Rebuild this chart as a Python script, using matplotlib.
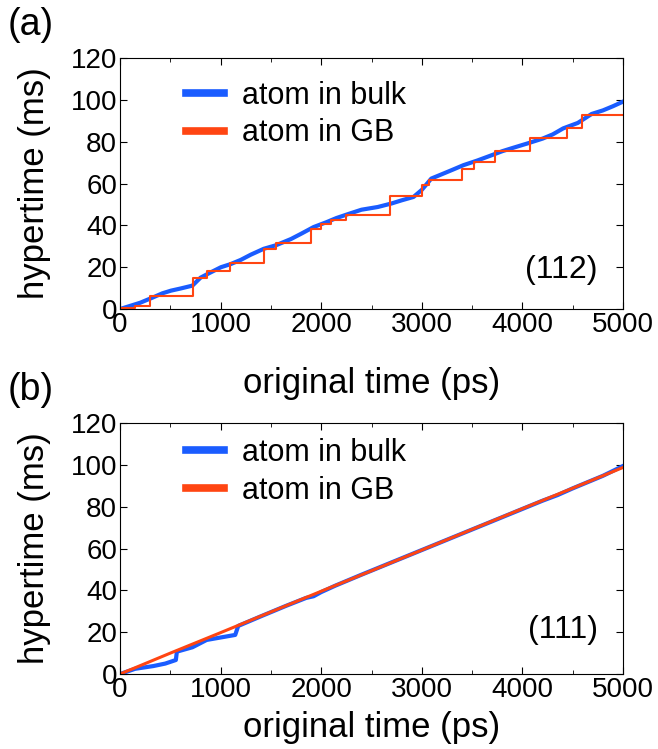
import numpy as np
import matplotlib
matplotlib.use('Agg')
import matplotlib.pyplot as plt
from matplotlib.ticker import MultipleLocator

plt.rcParams['font.family'] = ['Liberation Sans', 'DejaVu Sans']

# (112) panel
bulk112_t = [0, 100, 200, 330, 420, 507, 600, 720, 800, 900, 1003, 1100, 1200, 1300,
             1428, 1550, 1700, 1800, 1924, 2050, 2150, 2279, 2400, 2562, 2700, 2800,
             2917, 3000, 3094, 3200, 3300, 3413, 3550, 3696, 3800, 3900, 4050, 4200,
             4300, 4405, 4550, 4688, 4800, 4900, 5000]
bulk112_h = [0, 1.5, 3, 5.6, 7.5, 8.8, 9.8, 11.2, 15, 17.5, 20, 21.5, 23.5, 26,
             28.8, 30.5, 33.5, 36, 39.2, 41.5, 43.5, 45.6, 47.5, 48.8, 50.5, 52,
             53.6, 57, 62.4, 64.5, 66.5, 68.8, 71, 73.6, 75.5, 77, 79.2, 81.5,
             83.5, 86.4, 89, 93.3, 95, 97, 99.2]

gb112_t = [0, 152, 294, 726, 861, 1091, 1428, 1552, 1899, 2000, 2100, 2243, 2686,
           3005, 3076, 3395, 3519, 3731, 4079, 4440, 4589, 5000]
gb112_h = [0.5, 1.6, 6.4, 14.9, 18.4, 21.9, 28.8, 31.7, 38.4, 40.5, 42.5, 44.8,
           54.1, 59.2, 61.9, 67.2, 70.4, 75.5, 81.9, 86.4, 92.8, 92.8]

# (111) panel
bulk111_t = [0, 150, 330, 450, 555, 565, 720, 861, 1003, 1145, 1175, 1400, 1650,
             1850, 1924, 2000, 2137, 2400, 2700, 3000, 3300, 3600, 3900, 4200,
             4350, 4500, 4800, 5000]
bulk111_h = [0, 2.5, 3.8, 5, 6.7, 10.7, 12.8, 16.3, 17.5, 18.7, 23.0, 27.6, 32.6,
             36.4, 37.2, 39.2, 42.2, 47.5, 53.4, 59.3, 65.2, 71.1, 77.0, 82.9,
             85.6, 88.8, 94.8, 99.5]

gb111_t = [0, 500, 1000, 1500, 2000, 2500, 3000, 3500, 4000, 4500, 5000]
gb111_h = [0, 10, 19.8, 29.7, 39.6, 49.4, 59.3, 69.2, 79.1, 88.9, 98.8]

blue = '#1a5cff'
red = '#ff4512'

fig = plt.figure(figsize=(6.58, 7.49), dpi=100)
ax1 = fig.add_axes([0.1824, 0.5874, 0.7645, 0.335])
ax2 = fig.add_axes([0.1824, 0.1001, 0.7645, 0.335])

panels = [(ax1, bulk112_t, bulk112_h, gb112_t, gb112_h, '(112)', True, 0.91, 0.155, -0.295),
          (ax2, bulk111_t, bulk111_h, gb111_t, gb111_h, '(111)', False, 0.94, 0.175, -0.215)]

for ax, bt, bh, gt, gh, tag, stepped, ly, ty, xly in panels:
    ax.plot(bt, bh, color=blue, lw=3.0, label='atom in bulk')
    if stepped:
        ax.step(gt, gh, where='post', color=red, lw=1.5, label='atom in GB')
    else:
        ax.plot(gt, gh, color=red, lw=2.2, label='atom in GB')
    ax.set_xlim(0, 5000)
    ax.set_ylim(0, 120)
    ax.xaxis.set_major_locator(MultipleLocator(1000))
    ax.xaxis.set_minor_locator(MultipleLocator(500))
    ax.yaxis.set_major_locator(MultipleLocator(20))
    ax.tick_params(which='both', direction='in', top=True, right=True, labelsize=20, pad=2)
    ax.tick_params(which='major', length=5)
    ax.tick_params(which='minor', length=3)
    ax.set_ylabel('hypertime (ms)', fontsize=25, va='center')
    ax.yaxis.set_label_coords(-0.17, 0.5)
    ax.set_xlabel('original time (ps)', fontsize=25, va='center')
    ax.xaxis.set_label_coords(0.5, xly)
    leg = ax.legend(loc='upper left', bbox_to_anchor=(0.131, ly), frameon=False,
                    borderpad=0, borderaxespad=0, fontsize=22, handlelength=1.25,
                    handletextpad=0.6, labelspacing=0.25)
    for h in leg.get_lines():
        h.set_linewidth(5.5)
    ax.text(0.95, ty, tag, transform=ax.transAxes, ha='right', va='center', fontsize=23)

fig.text(0.012, 1 - 25 / 749, '(a)', fontsize=27, va='center')
fig.text(0.012, 1 - 390 / 749, '(b)', fontsize=27, va='center')

fig.savefig('out.png', dpi=100)
